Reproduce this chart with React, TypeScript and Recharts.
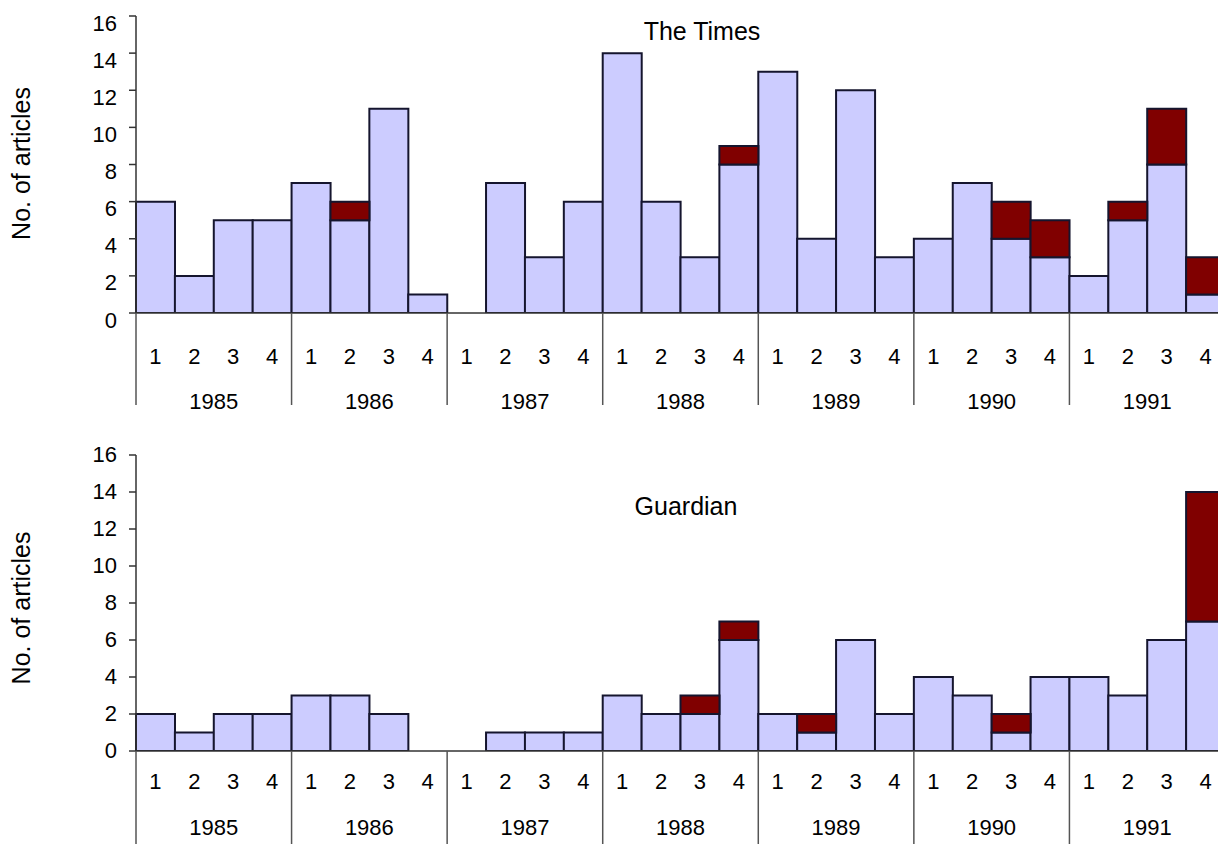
import { Bar, BarChart, XAxis, YAxis } from 'recharts'

const years = ['1985', '1986', '1987', '1988', '1989', '1990', '1991']
const quarters = ['1', '2', '3', '4']
const yTicks = [0, 2, 4, 6, 8, 10, 12, 14, 16]

// quarterly article counts, 1985 Q1 .. 1991 Q4
const timesLight = [6, 2, 5, 5, 7, 5, 11, 1, 0, 7, 3, 6, 14, 6, 3, 8, 13, 4, 12, 3, 4, 7, 4, 3, 2, 5, 8, 1]
const timesDark = [0, 0, 0, 0, 0, 1, 0, 0, 0, 0, 0, 0, 0, 0, 0, 1, 0, 0, 0, 0, 0, 0, 2, 2, 0, 1, 3, 2]
const guardianLight = [2, 1, 2, 2, 3, 3, 2, 0, 0, 1, 1, 1, 3, 2, 2, 6, 2, 1, 6, 2, 4, 3, 1, 4, 4, 3, 6, 7]
const guardianDark = [0, 0, 0, 0, 0, 0, 0, 0, 0, 0, 0, 0, 0, 0, 1, 1, 0, 1, 0, 0, 0, 0, 1, 0, 0, 0, 0, 7]

const FONT = '"Liberation Sans", Arial, sans-serif'
const LIGHT = '#ccccff'
const DARK = '#800000'
const OUTLINE = '#15152e'
const AXIS = '#333333'

function buildRows(light: number[], dark: number[]) {
  return years.flatMap((year, yi) =>
    quarters.map((q, qi) => ({
      key: `${year}-${q}`,
      year,
      q,
      light: light[yi * 4 + qi],
      dark: dark[yi * 4 + qi],
    })),
  )
}

function QuarterTick(props: any) {
  const { x, y, payload, rows, qOff, yOff, lineLen } = props
  const i = payload.index
  const half = payload.offset ?? 19.4
  const row = rows[i]
  return (
    <g>
      <text x={x} y={y + qOff} textAnchor="middle" dominantBaseline="central" fontSize={22} fill="#000">
        {row.q}
      </text>
      {i % 4 === 0 && (
        <line x1={x - half} y1={y} x2={x - half} y2={y + lineLen} stroke="#555" strokeWidth={1.5} />
      )}
      {i % 4 === 1 && (
        <text x={x + half} y={y + yOff} textAnchor="middle" dominantBaseline="central" fontSize={22} fill="#000">
          {row.year}
        </text>
      )}
    </g>
  )
}

function YTick(props: any) {
  const { x, y, payload, dy } = props
  return (
    <text x={x} y={y + dy} textAnchor="end" dominantBaseline="central" fontSize={22} fill="#000">
      {payload.value}
    </text>
  )
}

interface PanelProps {
  title: string
  titleX: number
  titleTop: number
  top: number
  height: number
  axisH: number
  lineLen: number
  qOff: number
  yOff: number
  tickDy: number
  labelDy: number
  light: number[]
  dark: number[]
}

function Panel(p: PanelProps) {
  const rows = buildRows(p.light, p.dark)
  return (
    <>
      <div
        style={{
          position: 'absolute',
          left: p.titleX,
          top: p.titleTop,
          transform: 'translateX(-50%)',
          fontSize: 25,
          lineHeight: '25px',
          whiteSpace: 'nowrap',
        }}
      >
        {p.title}
      </div>
      <div style={{ position: 'absolute', left: 0, top: p.top }}>
        <BarChart
          width={1225}
          height={p.height}
          data={rows}
          margin={{ top: 16, right: 0, bottom: 0, left: 0 }}
          barCategoryGap={0}
          barGap={0}
        >
          <XAxis
            dataKey="key"
            height={p.axisH}
            interval={0}
            tickLine={false}
            tickSize={0}
            tickMargin={0}
            axisLine={{ stroke: AXIS, strokeWidth: 1.5 }}
            tick={(t: any) => (
              <QuarterTick {...t} rows={rows} qOff={p.qOff} yOff={p.yOff} lineLen={p.lineLen} />
            )}
          />
          <YAxis
            width={136}
            domain={[0, 16]}
            ticks={yTicks}
            interval={0}
            allowDataOverflow
            tickSize={7}
            tickMargin={12}
            axisLine={{ stroke: AXIS, strokeWidth: 1.5 }}
            tickLine={{ stroke: AXIS, strokeWidth: 1.5 }}
            tick={(t: any) => <YTick {...t} dy={p.tickDy} />}
            label={{
              content: ({ viewBox }: any) => {
                const cx = viewBox.x + 30
                const cy = viewBox.y + viewBox.height / 2 + p.labelDy
                return (
                  <text
                    x={cx}
                    y={cy}
                    transform={`rotate(-90, ${cx}, ${cy})`}
                    textAnchor="middle"
                    fontSize={25}
                    fill="#000"
                  >
                    No. of articles
                  </text>
                )
              },
            }}
          />
          <Bar dataKey="light" stackId="a" fill={LIGHT} stroke={OUTLINE} strokeWidth={2} isAnimationActive={false} />
          <Bar dataKey="dark" stackId="a" fill={DARK} stroke={OUTLINE} strokeWidth={2} isAnimationActive={false} />
        </BarChart>
      </div>
    </>
  )
}

export default function App() {
  return (
    <div
      style={{
        position: 'absolute',
        left: 0,
        top: 0,
        width: 1218,
        height: 844,
        overflow: 'hidden',
        background: '#fff',
        fontFamily: FONT,
      }}
    >
      <Panel
        title="The Times"
        titleX={702}
        titleTop={19}
        top={0}
        height={413}
        axisH={100}
        lineLen={92}
        qOff={43}
        yOff={88}
        tickDy={7}
        labelDy={-1}
        light={timesLight}
        dark={timesDark}
      />
      <Panel
        title="Guardian"
        titleX={686}
        titleTop={494}
        top={439}
        height={405}
        axisH={93}
        lineLen={93}
        qOff={30}
        yOff={76}
        tickDy={-1}
        labelDy={5}
        light={guardianLight}
        dark={guardianDark}
      />
    </div>
  )
}
